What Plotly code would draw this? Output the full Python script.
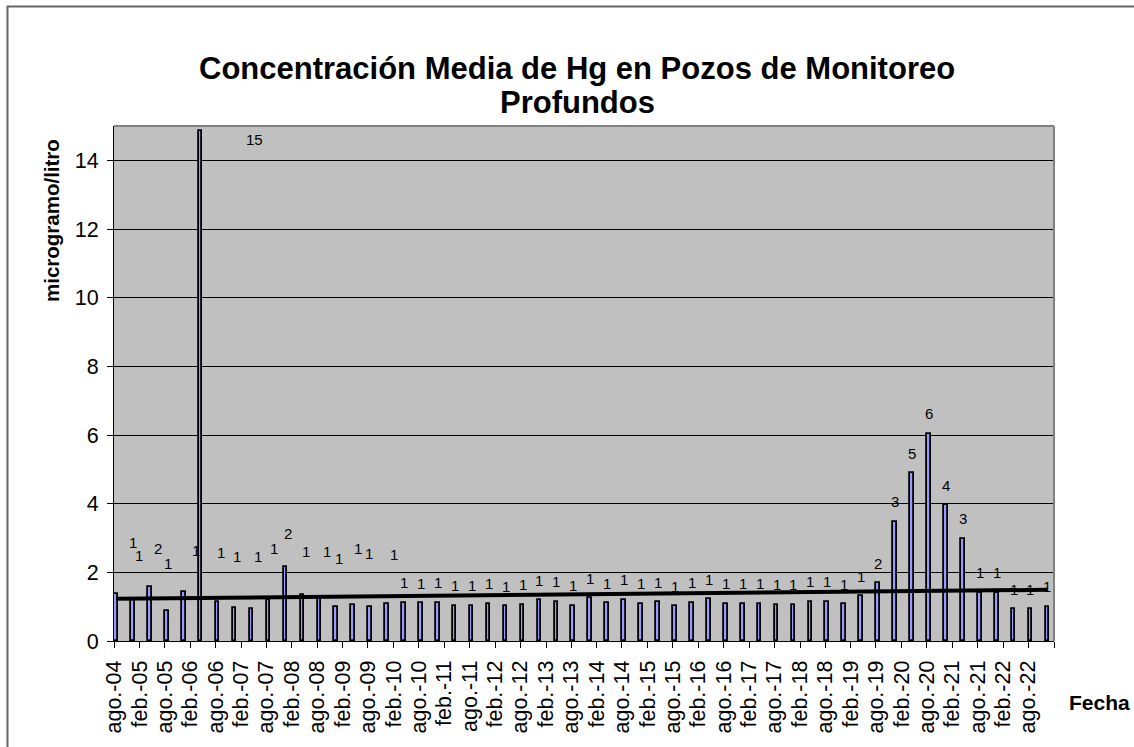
import plotly.graph_objects as go

# muestreos cada 4 meses (fecha de muestreo ~ mitad de mes)
fechas = [
    "2004-08-16", "2004-12-16",
    "2005-04-16", "2005-08-16", "2005-12-16",
    "2006-04-16", "2006-08-16", "2006-12-16",
    "2007-04-16", "2007-08-16", "2007-12-16",
    "2008-04-16", "2008-08-16", "2008-12-16",
    "2009-04-16", "2009-08-16", "2009-12-16",
    "2010-04-16", "2010-08-16", "2010-12-16",
    "2011-04-16", "2011-08-16", "2011-12-16",
    "2012-04-16", "2012-08-16", "2012-12-16",
    "2013-04-16", "2013-08-16", "2013-12-16",
    "2014-04-16", "2014-08-16", "2014-12-16",
    "2015-04-16", "2015-08-16", "2015-12-16",
    "2016-04-16", "2016-08-16", "2016-12-16",
    "2017-04-16", "2017-08-16", "2017-12-16",
    "2018-04-16", "2018-08-16", "2018-12-16",
    "2019-04-16", "2019-08-16", "2019-12-16",
    "2020-04-16", "2020-08-16", "2020-12-16",
    "2021-04-16", "2021-08-16", "2021-12-16",
    "2022-04-16", "2022-08-16", "2022-12-16",
]

# concentracion media de Hg (microgramo/litro)
hg_medio = [
    1.37, 1.18, 1.57, 0.88, 1.43, 14.85, 1.14, 0.97, 0.92, 1.18,
    2.15, 1.34, 1.25, 1.00, 1.05, 1.00, 1.08, 1.12, 1.10, 1.12,
    1.03, 1.03, 1.09, 1.01, 1.05, 1.18, 1.15, 1.02, 1.24, 1.10,
    1.20, 1.09, 1.13, 1.01, 1.12, 1.21, 1.08, 1.08, 1.08, 1.06,
    1.05, 1.15, 1.15, 1.07, 1.30, 1.68, 3.47, 4.88, 6.03, 3.96,
    2.98, 1.41, 1.41, 0.93, 0.93, 1.00,
]

# linea de tendencia (inicio, fin)
tendencia = [1.23, 1.49]

# etiquetas del eje x (cada 6 meses)
ticks_fecha = [
    "2004-08-01", "2005-02-01", "2005-08-01", "2006-02-01", "2006-08-01",
    "2007-02-01", "2007-08-01", "2008-02-01", "2008-08-01", "2009-02-01",
    "2009-08-01", "2010-02-01", "2010-08-01", "2011-02-01", "2011-08-01",
    "2012-02-01", "2012-08-01", "2013-02-01", "2013-08-01", "2014-02-01",
    "2014-08-01", "2015-02-01", "2015-08-01", "2016-02-01", "2016-08-01",
    "2017-02-01", "2017-08-01", "2018-02-01", "2018-08-01", "2019-02-01",
    "2019-08-01", "2020-02-01", "2020-08-01", "2021-02-01", "2021-08-01",
    "2022-02-01", "2022-08-01", "2023-02-01",
]
ticks_texto = [
    "ago.-04", "feb.-05", "ago.-05", "feb.-06", "ago.-06",
    "feb.-07", "ago.-07", "feb.-08", "ago.-08", "feb.-09",
    "ago.-09", "feb.-10", "ago.-10", "feb.-11", "ago.-11",
    "feb.-12", "ago.-12", "feb.-13", "ago.-13", "feb.-14",
    "ago.-14", "feb.-15", "ago.-15", "feb.-16", "ago.-16",
    "feb.-17", "ago.-17", "feb.-18", "ago.-18", "feb.-19",
    "ago.-19", "feb.-20", "ago.-20", "feb.-21", "ago.-21",
    "feb.-22", "ago.-22", "",
]

FONT = "Liberation Sans, Arial, sans-serif"

# desplazamiento (px) de las etiquetas movidas a mano en el original
lbl_dx = [17, 6, 8, 1, 12, 54, 3, 2, 7, 6, 3, 4, 8, 3, 5, -1, 7] + [0] * 39
lbl_dy = [51, 45, 39, 47, 41, -8, 49, 51, 53, 52, 34, 43, 47, 48, 56, 53, 49] + [20] * 39

fig = go.Figure()

fig.add_trace(go.Bar(
    x=fechas, y=hg_medio,
    width=26 * 86400000,
    marker=dict(color="#9999FF", line=dict(color="black", width=1.8)),
    showlegend=False,
))

fig.add_trace(go.Scatter(
    x=[fechas[0], fechas[-1]], y=tendencia,
    mode="lines", line=dict(color="black", width=4),
    showlegend=False,
))

for i, (f, v) in enumerate(zip(fechas, hg_medio)):
    fig.add_annotation(
        x=f, y=v, text=f"{v:.0f}", showarrow=False,
        xshift=lbl_dx[i], yshift=lbl_dy[i], yanchor="middle",
        font=dict(family=FONT, size=15, color="black"),
    )

# titulo en dos lineas
fig.add_annotation(x=0.4926, y=1.1126, xref="paper", yref="paper",
                   xanchor="center", yanchor="middle",
                   text="<b>Concentración Media de Hg en Pozos de Monitoreo</b>",
                   showarrow=False, font=dict(family=FONT, size=31, color="black"))
fig.add_annotation(x=0.4926, y=1.0447, xref="paper", yref="paper",
                   xanchor="center", yanchor="middle",
                   text="<b>Profundos</b>",
                   showarrow=False, font=dict(family=FONT, size=31, color="black"))

fig.add_annotation(x=-0.067, y=0.8155, xref="paper", yref="paper",
                   xanchor="center", yanchor="middle",
                   text="<b>microgramo/litro</b>", textangle=-90,
                   showarrow=False, font=dict(family=FONT, size=20.5, color="black"))
fig.add_annotation(x=1.048, y=-0.12, xref="paper", yref="paper",
                   xanchor="center", yanchor="middle",
                   text="<b>Fecha</b>",
                   showarrow=False, font=dict(family=FONT, size=21, color="black"))

# borde gris del area de trazado (arriba y derecha) y borde del grafico
fig.add_shape(type="line", xref="paper", yref="paper", x0=0, x1=1, y0=1, y1=1,
              line=dict(color="#808080", width=2))
fig.add_shape(type="line", xref="paper", yref="paper", x0=1, x1=1, y0=0, y1=1,
              line=dict(color="#808080", width=2))
fig.add_shape(type="rect", xref="paper", yref="paper",
              x0=-0.1133, x1=1.0915, y0=-0.2155, y1=1.232,
              line=dict(color="#666666", width=2))

fig.update_layout(
    width=1134, height=747,
    margin=dict(l=114, r=80, t=126, b=106),
    paper_bgcolor="white", plot_bgcolor="#C0C0C0",
    font=dict(family=FONT, size=21, color="black"),
    bargap=0,
    xaxis=dict(
        type="date", range=["2004-08-01", "2023-02-01"],
        tickvals=ticks_fecha, ticktext=ticks_texto, tickangle=-90,
        ticks="outside", ticklen=6, tickcolor="black",
        showline=True, linecolor="black", linewidth=1,
        showgrid=False, tickfont=dict(size=21.5),
        ticklabelstandoff=4, automargin=False,
    ),
    yaxis=dict(
        range=[0, 15], dtick=2, tick0=0,
        ticks="outside", ticklen=6, tickcolor="black",
        showline=True, linecolor="black", linewidth=1,
        showgrid=True, gridcolor="black", gridwidth=1,
        zeroline=False, tickfont=dict(size=21.5),
        ticklabelstandoff=4, automargin=False,
    ),
)

fig.write_html("out.html", config={"displayModeBar": False},
               post_script="document.body.style.margin='0';")
